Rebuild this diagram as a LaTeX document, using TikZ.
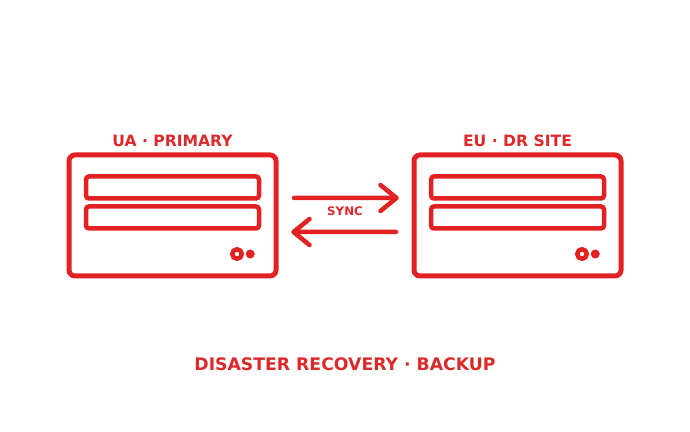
\documentclass[tikz,border=0pt]{standalone}
\usepackage{fontspec}
\setmainfont{DejaVu Sans}
\usepackage{xcolor}
\usetikzlibrary{positioning}
\definecolor{drred}{HTML}{E22222}
\definecolor{drtext}{HTML}{DC2A2A}

\begin{document}
\begin{tikzpicture}[
        x=1pt, y=1pt,
        server/.style={rectangle, draw=drred, line width=5pt, rounded corners=6pt, minimum width=207pt, minimum height=121pt, outer sep=0pt},
        bay/.style={rectangle, draw=drred, line width=4.5pt, rounded corners=3pt, minimum width=173pt, minimum height=22pt, outer sep=0pt},
        led/.style={circle, draw=drred, line width=4.5pt, fill=white, minimum size=9.5pt, inner sep=0pt, outer sep=0pt},
        dot/.style={circle, fill=drred, minimum size=9pt, inner sep=0pt, outer sep=0pt},
        sitelabel/.style={text=drtext, font=\bfseries\fontsize{15.6}{18}\selectfont, inner sep=0pt},
        line/.style={draw=drred, line width=4.5pt, line cap=round, line join=round}
    ]
    \useasboundingbox (0,0) rectangle (690,431);

    \node [server] (ua) at (172.5,215.5) {};
    \node [server, right=138pt of ua] (eu) {};

    \foreach \site/\sitename in {ua/UA · PRIMARY, eu/EU · DR SITE} {
        \node [sitelabel, above=8pt of \site.north] (\site label) {\sitename};
        \node [bay, below=21.5pt of \site.north] (\site bay1) {};
        \node [bay, below=8pt of \site bay1] (\site bay2) {};
        \node [led] (\site led) at ([xshift=-39pt, yshift=22pt]\site.south east) {};
        \node [dot, right=4pt of \site led] (\site dot) {};
    }

    \coordinate (tipeu) at ([xshift=-17.5pt, yshift=17.5pt]eu.west);
    \coordinate (tipua) at ([xshift=17.5pt, yshift=-16.5pt]ua.east);

    \path [line] ([xshift=18pt, yshift=17.5pt]ua.east) -- (tipeu) -- ++(-16,13) (tipeu) -- ++(-16,-13);
    \path [line] ([xshift=-18pt, yshift=-16.5pt]eu.west) -- (tipua) -- ++(16,13) (tipua) -- ++(16,-13);

    \node [text=drtext, font=\bfseries\fontsize{11.8}{14}\selectfont, inner sep=0pt] (sync) at (345,220) {SYNC};
    \node [text=drtext, font=\bfseries\fontsize{17.25}{20}\selectfont, inner sep=0pt] (title) at (345,67) {DISASTER RECOVERY · BACKUP};

\end{tikzpicture}
\end{document}
